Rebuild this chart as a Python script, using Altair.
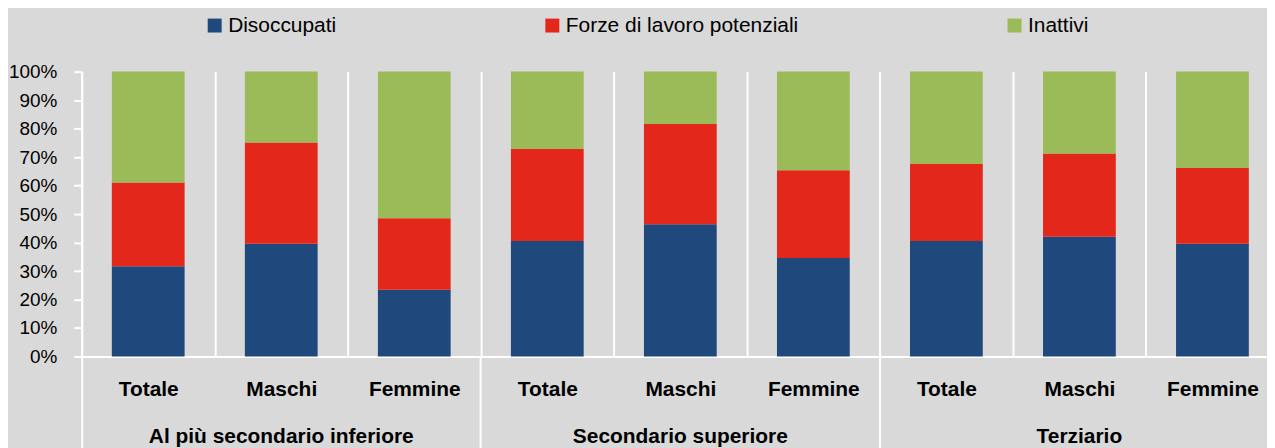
import altair as alt
import pandas as pd

groups = ["Al più secondario inferiore", "Secondario superiore", "Terziario"]
sexes = ["Totale", "Maschi", "Femmine"]
series = ["Disoccupati", "Forze di lavoro potenziali", "Inattivi"]
disoccupati = [31.7, 39.6, 23.4, 40.5, 46.4, 34.6, 40.5, 42.0, 39.6]
forze = [29.4, 35.5, 25.1, 32.3, 35.2, 30.8, 27.1, 29.3, 26.6]
inattivi = [38.9, 24.9, 51.5, 27.2, 18.4, 34.6, 32.4, 28.7, 33.8]
colors = ["#1F497D", "#E3271B", "#9BBB59"]
y_ticks = [0, 10, 20, 30, 40, 50, 60, 70, 80, 90, 100]

keys = [f"{g}|{s}" for g in groups for s in sexes]
rows = []
for i, k in enumerate(keys):
    for j, (name, vals) in enumerate(zip(series, [disoccupati, forze, inattivi])):
        rows.append({"key": k, "serie": name, "ord": j, "v": vals[i]})
df = pd.DataFrame(rows)

FONT = "Liberation Sans, Arial, sans-serif"
xscale = alt.Scale(domain=keys, range=[0, 1202], paddingInner=0, paddingOuter=0)

base = alt.Chart(df)

bars = base.mark_bar(width=alt.RelativeBandSize(0.547)).encode(
    x=alt.X("key:N", scale=xscale, sort=keys,
            axis=alt.Axis(orient="bottom", title=None,
                          labelExpr="split(datum.value,'|')[1]", labelAngle=0,
                          labelFont=FONT, labelFontSize=21, labelFontWeight="bold",
                          labelColor="black", labelPadding=22, labelLimit=400,
                          ticks=False, tickSize=0, tickBand="extent",
                          grid=True, gridColor="white", gridWidth=2, gridOpacity=1,
                          domainColor="white", domainWidth=2)),
    y=alt.Y("v:Q", stack="zero", scale=alt.Scale(domain=[0, 100], nice=False),
            axis=alt.Axis(title=None, values=y_ticks, labelExpr="datum.value + '%'",
                          grid=False, domainColor="white", domainWidth=2,
                          tickColor="white", tickWidth=2, tickSize=8,
                          labelPadding=17, labelFont=FONT, labelFontSize=19,
                          labelColor="black")),
    color=alt.Color("serie:N", scale=alt.Scale(domain=series, range=colors),
                    legend=alt.Legend(orient="none", legendX=123, legendY=-57,
                                      direction="horizontal", title=None,
                                      symbolType="square", symbolSize=196,
                                      symbolStrokeWidth=0, symbolOpacity=1,
                                      labelFont=FONT, labelFontSize=21,
                                      labelColor="black", labelLimit=400,
                                      columnPadding=206, labelOffset=3)),
    order=alt.Order("ord:Q"),
)

group_lines = base.mark_point(opacity=0).encode(
    x=alt.X("key:N", scale=xscale, sort=keys,
            axis=alt.Axis(orient="bottom", title=None,
                          values=[f"{g}|Totale" for g in groups],
                          bandPosition=0, ticks=True, tickSize=92,
                          tickColor="white", tickWidth=2, labels=False,
                          domain=False, grid=False)),
)

group_labels = base.mark_point(opacity=0).encode(
    x=alt.X("key:N", scale=xscale, sort=keys,
            axis=alt.Axis(orient="bottom", title=None,
                          values=[f"{g}|Maschi" for g in groups],
                          labelExpr="split(datum.value,'|')[0]", labelAngle=0,
                          ticks=False, tickSize=0, domain=False, grid=False,
                          labelPadding=69, labelFont=FONT, labelFontSize=21,
                          labelFontWeight="bold", labelColor="black",
                          labelLimit=400, labelOverlap=False)),
)

chart = alt.layer(bars, group_lines, group_labels).resolve_axis(
    x="independent"
).properties(
    width=1190, height=286,
    padding={"left": 74, "top": 63, "right": 0, "bottom": 91},
    autosize=alt.AutoSizeParams(type="none"),
).configure(background="#D9D9D9").configure_view(stroke=None)

chart.save("out.html", embed_options={"renderer": "svg", "actions": False})
